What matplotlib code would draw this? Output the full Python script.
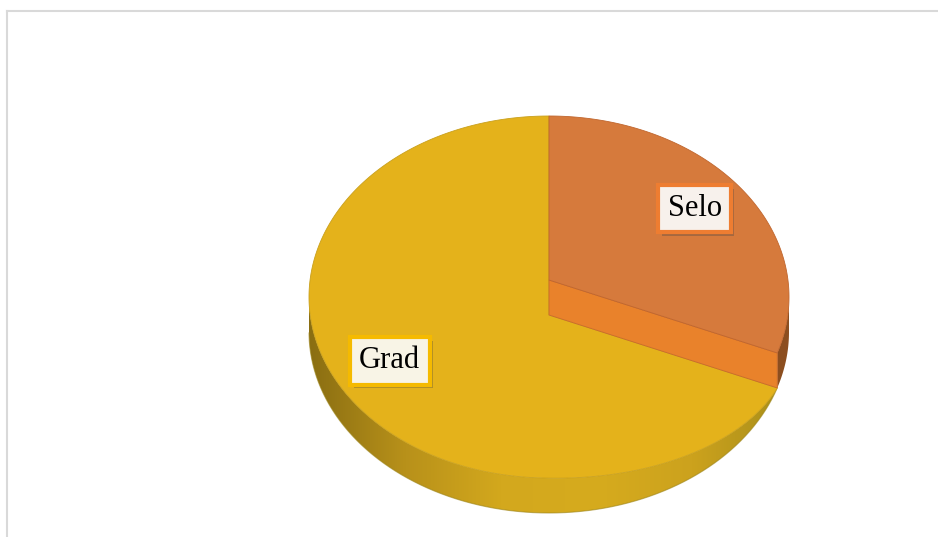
import numpy as np
import matplotlib
matplotlib.use("Agg")
import matplotlib.pyplot as plt
from matplotlib.patches import Polygon
from matplotlib.colors import LinearSegmentedColormap
import matplotlib.patheffects as pe

# data
labels = ["Selo", "Grad"]
shares = [30, 70]
top_colors = ["#D67A3C", "#E4B21B"]
edge_colors = ["#EE7D31", "#F5BA00"]
box_faces = ["#F7F1EC", "#F8F4E6"]

# layout of the "3d" pie (pixel coords, y down)
cx, cy = 549, 297
rx, ry = 240, 181
depth = 35
vy = cy - 17          # projected apex of the top face


def top(th):
    th = np.radians(th)
    return np.column_stack([cx + rx * np.cos(th), cy - ry * np.sin(th)])


def bottom(th):
    p = top(th)
    p[:, 1] += depth
    return p


fig = plt.figure(figsize=(9.38, 5.37), dpi=100)
ax = fig.add_axes([0, 0, 1, 1])
ax.set_xlim(0, 938)
ax.set_ylim(537, 0)
ax.axis("off")

# angles: start at 12 o'clock, clockwise
frac = np.array(shares) / sum(shares)
a0 = 90.0
a_selo = (a0, a0 - 360 * frac[0])
a_grad = (a_selo[1], a_selo[1] - 360 * frac[1])
cut = a_selo[1]

# Grad rim sits lower near the cut edge
th_g = np.linspace(a_grad[0], a_grad[1], 400)
w = np.clip((th_g - (cut - 75)) / 75.0, 0, 1) ** 1.8
rim_g = top(th_g)
rim_g[:, 1] += depth * w

# Selo side wall (small sliver on the right)
th_s = np.linspace(0, cut, 40)
wall_s = np.vstack([top(th_s), bottom(th_s[::-1])])
ax.add_patch(Polygon(wall_s, closed=True, fc="#8C4E1F", ec="none", zorder=1))

# Grad side wall with a gradient
front = (th_g <= 0) & (th_g >= -180)
rim_f = rim_g[front]
low_f = bottom(th_g[front])
wall_g = np.vstack([rim_f, low_f[::-1]])
wall_patch = Polygon(wall_g, closed=True, fc="none", ec="none")
ax.add_patch(wall_patch)
cmap = LinearSegmentedColormap.from_list(
    "wall", ["#8A6E12", "#B8911A", "#D3A81D", "#D6AB1E", "#CCA21D", "#A88E1A"])
grad = np.linspace(0, 1, 256).reshape(1, -1)
im = ax.imshow(grad, cmap=cmap, extent=[cx - rx, cx + rx, cy + ry + 2 * depth, cy - 5],
               aspect="auto", zorder=2)
im.set_clip_path(wall_patch)
ax.plot(low_f[:, 0], low_f[:, 1], color="#9C8418", lw=0.8, alpha=0.6, zorder=2)

# Grad top face
grad_top = np.vstack([[cx, vy + depth], rim_g, [cx, vy]])
ax.add_patch(Polygon(grad_top, closed=True, fc=top_colors[1], ec="#C9A01C",
                     lw=0.6, zorder=3))

# Selo inner radial face
strip = np.vstack([[cx, vy], top([cut]), bottom([cut]), [cx, vy + depth]])
ax.add_patch(Polygon(strip, closed=True, fc="#E9822B", ec="#C96A2A", lw=0.6, zorder=3))

# Selo top face
th_st = np.linspace(a_selo[0], a_selo[1], 200)
selo_top = np.vstack([[cx, vy], top(th_st)])
ax.add_patch(Polygon(selo_top, closed=True, fc=top_colors[0], ec="#C0662E",
                     lw=0.6, zorder=4))

# labels
mids = [np.mean(a_selo), np.mean(a_grad)]
fac = [(0.75, 0.83), (0.82, 0.6)]
for lab, m, (fx, fy), ec, fc in zip(labels, mids, fac, edge_colors, box_faces):
    x = cx + rx * fx * np.cos(np.radians(m))
    y = cy - ry * fy * np.sin(np.radians(m))
    t = ax.text(x, y, lab, fontsize=22, family="Liberation Serif", color="black",
                ha="center", va="center", zorder=6,
                bbox=dict(boxstyle="square,pad=0.3", fc=fc, ec=ec, lw=3))
    t.get_bbox_patch().set_path_effects(
        [pe.SimplePatchShadow(offset=(2.5, -2.5), alpha=0.35), pe.Normal()])

# chart area frame (top and left edges visible)
ax.plot([7, 938], [11, 11], color="#D9D9D9", lw=1.5, zorder=0)
ax.plot([7, 7], [11, 537], color="#D9D9D9", lw=1.5, zorder=0)

fig.savefig("out.png", dpi=100)
